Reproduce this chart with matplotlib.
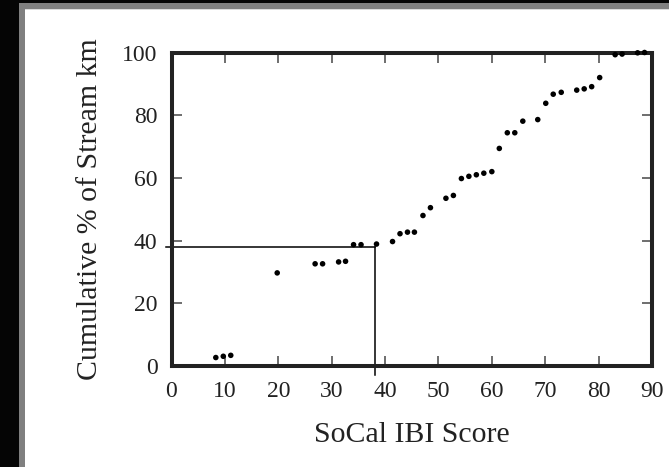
import matplotlib
matplotlib.use("Agg")
import matplotlib.pyplot as plt
from matplotlib.patches import Rectangle

# Data
ibi_score = [8.3, 9.7, 11.1, 19.8, 26.9, 28.3, 31.3, 32.6, 34.1, 35.5, 38.4,
             41.4, 42.8, 44.2, 45.5, 47.1, 48.5, 51.4, 52.8, 54.3, 55.7, 57.1,
             58.5, 60.0, 61.4, 62.9, 64.3, 65.8, 68.6, 70.1, 71.5, 73.0, 75.9,
             77.3, 78.7, 80.2, 83.1, 84.4, 87.3, 88.6]
cum_pct = [2.7, 3.1, 3.4, 29.7, 32.6, 32.6, 33.2, 33.4, 38.7, 38.7, 38.9,
           39.7, 42.2, 42.7, 42.7, 48.0, 50.5, 53.5, 54.4, 59.8, 60.5, 61.0,
           61.5, 62.0, 69.4, 74.4, 74.4, 78.1, 78.6, 83.8, 86.7, 87.3, 88.0,
           88.4, 89.1, 92.0, 99.3, 99.5, 99.9, 100.0]
ref_x = 38.2
ref_y = 38.0
x_ticks = [0, 10, 20, 30, 40, 50, 60, 70, 80, 90]
y_ticks = [0, 20, 40, 60, 80, 100]

W, H = 669, 467
fig = plt.figure(figsize=(W / 100, H / 100), dpi=100)
fig.patch.set_facecolor("white")

def px_rect(x0, y0, x1, y1, color):
    fig.patches.append(Rectangle((x0 / W, 1 - y1 / H), (x1 - x0) / W, (y1 - y0) / H,
                                 transform=fig.transFigure, facecolor=color,
                                 edgecolor="none", zorder=0))

# dark frame around the screenshot
px_rect(0, 0, 19, H, "#050505")
px_rect(0, 0, W, 3.3, "#050505")
px_rect(19, 3.3, 25, H, "#808080")
px_rect(19, 3.3, W, 9, "#808080")
px_rect(25, 9, W, 10, "#dcdcdc")

left, right, top, bottom = 171.5, 652, 52.5, 366
ax = fig.add_axes([left / W, 1 - bottom / H, (right - left) / W, (bottom - top) / H])
ax.set_facecolor("white")

serif = ["Liberation Serif", "DejaVu Serif"]

ax.scatter(ibi_score, cum_pct, s=16, color="black", zorder=3, clip_on=False,
           edgecolors="none")
ax.plot([-1, ref_x], [ref_y, ref_y], color="black", lw=1.1, clip_on=False, zorder=2)
ax.plot([ref_x, ref_x], [ref_y, -2.9], color="black", lw=1.1, clip_on=False, zorder=2)

ax.set_xlim(0, 90)
ax.set_ylim(0, 100)
ax.set_xticks(x_ticks)
ax.set_yticks(y_ticks)
ax.set_xticklabels([str(v) for v in x_ticks], family=serif, fontsize=17, color="#222222")
ax.set_yticklabels([str(v) for v in y_ticks], family=serif, fontsize=17, color="#222222")
ax.tick_params(direction="in", length=7, width=1.2, color="#555555",
               top=True, right=True, pad=10)
ax.tick_params(axis="x", pad=11)

for sp in ax.spines.values():
    sp.set_linewidth(2.9)
    sp.set_color("#222222")

ax.set_xlabel("SoCal IBI Score", family=serif, fontsize=21.5, color="#222222",
              labelpad=14)
ax.set_ylabel("Cumulative % of Stream km", family=serif, fontsize=21.5,
              color="#222222", labelpad=14)

fig.savefig("out.png", dpi=100)
